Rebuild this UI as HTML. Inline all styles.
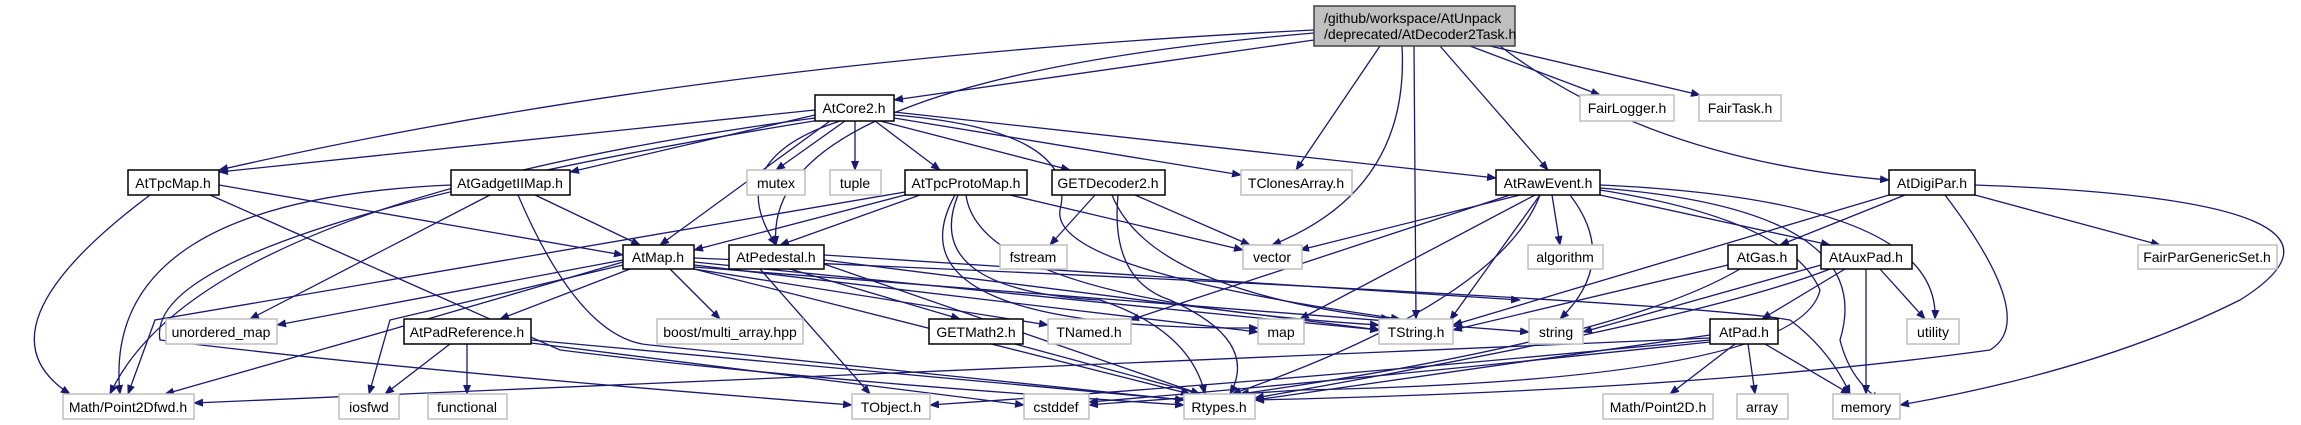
<!DOCTYPE html>
<html><head><meta charset="utf-8"><style>
html,body{margin:0;padding:0;background:#fff;}
svg{display:block;}
text{font-family:"Liberation Sans",sans-serif;font-size:14px;fill:#000;}
.e{fill:none;stroke:#191970;stroke-width:1.3;marker-end:url(#a);}
.n{fill:#fff;stroke:#000;stroke-width:1.5;}
.x{fill:#fff;stroke:#bfbfbf;stroke-width:1.5;}
</style></head><body>
<svg width="2301" height="425" viewBox="0 0 2301 425" xmlns="http://www.w3.org/2000/svg">
<defs><marker id="a" markerWidth="10" markerHeight="8" refX="9" refY="4" orient="auto" markerUnits="userSpaceOnUse"><path d="M0,0 L10,4 L0,8 z" fill="#191970"/></marker></defs>
<g>
<!-- main -->
<path class="e" d="M1314,30 Q700,60 219,170"/>
<path class="e" d="M1314,33 Q760,80 776,245"/>
<path class="e" d="M1314,40 L894,100"/>
<path class="e" d="M1380,46 L1296,170"/>
<path class="e" d="M1402,46 Q1410,190 1272,245"/>
<path class="e" d="M1414,46 L1416,319"/>
<path class="e" d="M1440,46 L1548,170"/>
<path class="e" d="M1470,46 L1600,95"/>
<path class="e" d="M1490,46 L1700,95"/>
<path class="e" d="M1500,46 Q1650,160 1889,180"/>
<!-- AtCore2 -->
<path class="e" d="M815,110 L219,172"/>
<path class="e" d="M815,115 L570,172"/>
<path class="e" d="M830,121 L660,245"/>
<path class="e" d="M840,121 Q720,160 776,245"/>
<path class="e" d="M845,121 L776,170"/>
<path class="e" d="M855,121 L855,170"/>
<path class="e" d="M875,121 L940,170"/>
<path class="e" d="M880,121 L1070,170"/>
<path class="e" d="M894,118 L1241,175"/>
<path class="e" d="M894,112 L1496,178"/>
<path class="e" d="M894,115 Q1080,130 1060,210 Q1050,270 1400,319"/>
<path class="e" d="M815,118 Q200,200 110,394"/>
<path class="e" d="M820,120 Q140,230 160,340 Q400,370 852,405"/>
<!-- AtTpcMap -->
<path class="e" d="M150,195 Q-30,330 70,394"/>
<path class="e" d="M219,185 L623,255"/>
<path class="e" d="M210,195 L560,350 Q800,380 1184,405"/>
<!-- AtGadget -->
<path class="e" d="M451,185 Q100,200 120,394"/>
<path class="e" d="M490,195 L250,319"/>
<path class="e" d="M535,195 L640,245"/>
<path class="e" d="M518,195 Q580,340 650,345 Q900,370 1184,400"/>
<!-- ProtoMap -->
<path class="e" d="M905,195 L694,250"/>
<path class="e" d="M920,195 L780,245"/>
<path class="e" d="M1010,195 L1243,250"/>
<path class="e" d="M958,195 Q920,290 1100,300 Q1190,330 1205,394"/>
<path class="e" d="M966,195 Q980,300 1379,325"/>
<path class="e" d="M955,195 Q880,330 1258,328"/>
<path class="e" d="M905,192 L155,320 L128,394"/>
<!-- GETDec -->
<path class="e" d="M1095,195 L1050,245"/>
<path class="e" d="M1135,195 L1250,245"/>
<path class="e" d="M1112,195 Q1150,290 1390,319"/>
<path class="e" d="M1118,195 Q1110,280 1170,300 Q1260,340 1230,394"/>
<!-- AtRawEvent -->
<path class="e" d="M1520,195 L1300,250"/>
<path class="e" d="M1535,195 L1300,319"/>
<path class="e" d="M1510,195 L1130,320"/>
<path class="e" d="M1540,195 Q1500,300 1232,394"/>
<path class="e" d="M1552,195 L1560,245"/>
<path class="e" d="M1570,195 Q1620,260 1560,319"/>
<path class="e" d="M1600,195 L1830,245"/>
<path class="e" d="M1600,185 Q1940,200 1935,319"/>
<path class="e" d="M1600,188 Q1880,210 1840,340 Q1850,380 1880,400"/>
<path class="e" d="M1600,190 Q1790,220 1820,290 Q1800,380 1300,390 Q1150,400 1089,405"/>
<path class="e" d="M1540,195 L1450,320"/>
<!-- AtDigiPar -->
<path class="e" d="M1905,195 L1780,245"/>
<path class="e" d="M1889,195 L1453,325"/>
<path class="e" d="M1975,195 L2160,245"/>
<path class="e" d="M1975,185 Q2400,200 2240,300 Q2100,370 1900,405"/>
<path class="e" d="M1945,195 Q2040,320 1990,350 Q1700,390 1255,400"/>
<!-- AtMap -->
<path class="e" d="M623,260 L277,325"/>
<path class="e" d="M623,262 L390,330 L165,394"/>
<path class="e" d="M623,265 L390,320 L369,394"/>
<path class="e" d="M630,269 L500,319"/>
<path class="e" d="M670,269 L720,319"/>
<path class="e" d="M694,269 L1048,325"/>
<path class="e" d="M694,265 L1258,332"/>
<path class="e" d="M694,262 L1379,330"/>
<path class="e" d="M694,269 L1190,394"/>
<path class="e" d="M694,267 L1529,332"/>
<path class="e" d="M694,258 Q1680,300 1790,320 Q1830,350 1850,394"/>
<!-- AtPedestal -->
<path class="e" d="M760,269 L870,394"/>
<path class="e" d="M790,269 L960,319"/>
<path class="e" d="M824,260 L1380,330"/>
<path class="e" d="M824,264 L1200,394"/>
<path class="e" d="M824,255 L1520,300"/>
<!-- PadRef -->
<path class="e" d="M450,344 L385,394"/>
<path class="e" d="M467,344 L467,394"/>
<path class="e" d="M531,340 L1184,400"/>
<path class="e" d="M531,343 L1024,405"/>
<!-- GETMath2 -->
<path class="e" d="M1015,344 L1200,394"/>
<!-- AtGas -->
<path class="e" d="M1728,265 L1453,330"/>
<path class="e" d="M1740,269 Q1620,340 1240,394"/>
<!-- AtAuxPad -->
<path class="e" d="M1821,265 L1583,332"/>
<path class="e" d="M1845,269 L1762,319"/>
<path class="e" d="M1866,269 L1866,394"/>
<path class="e" d="M1880,269 L1925,319"/>
<path class="e" d="M1830,269 Q1700,320 1255,398"/>
<!-- AtPad -->
<path class="e" d="M1735,344 L1670,394"/>
<path class="e" d="M1748,344 L1755,394"/>
<path class="e" d="M1765,344 L1850,394"/>
<path class="e" d="M1710,335 L1255,400"/>
<path class="e" d="M1710,340 Q1300,380 930,405"/>
<path class="e" d="M1710,342 Q1300,385 1089,402"/>
<path class="e" d="M1710,338 Q1000,370 194,403"/>
</g>
<g>
<rect x="1314" y="6" width="201" height="40" fill="#bfbfbf" stroke="#404040" stroke-width="1.5"/>
<text x="1324" y="23">/github/workspace/AtUnpack</text>
<text x="1324" y="39">/deprecated/AtDecoder2Task.h</text>

<rect class="n" x="815" y="95" width="79" height="26"/><text x="854" y="113" text-anchor="middle">AtCore2.h</text>
<rect class="x" x="1580" y="95" width="94" height="26"/><text x="1627" y="113" text-anchor="middle" fill="#000">FairLogger.h</text>
<rect class="x" x="1699" y="95" width="82" height="26"/><text x="1740" y="113" text-anchor="middle">FairTask.h</text>

<rect class="n" x="128" y="170" width="91" height="25"/><text x="173" y="188" text-anchor="middle">AtTpcMap.h</text>
<rect class="n" x="451" y="170" width="119" height="25"/><text x="510" y="188" text-anchor="middle">AtGadgetIIMap.h</text>
<rect class="x" x="747" y="170" width="58" height="25"/><text x="776" y="188" text-anchor="middle">mutex</text>
<rect class="x" x="830" y="170" width="51" height="25"/><text x="855" y="188" text-anchor="middle">tuple</text>
<rect class="n" x="905" y="170" width="122" height="25"/><text x="966" y="188" text-anchor="middle">AtTpcProtoMap.h</text>
<rect class="n" x="1052" y="170" width="113" height="25"/><text x="1108" y="188" text-anchor="middle">GETDecoder2.h</text>
<rect class="x" x="1241" y="170" width="111" height="25"/><text x="1296" y="188" text-anchor="middle">TClonesArray.h</text>
<rect class="n" x="1496" y="170" width="104" height="25"/><text x="1548" y="188" text-anchor="middle">AtRawEvent.h</text>
<rect class="n" x="1889" y="170" width="86" height="25"/><text x="1932" y="188" text-anchor="middle">AtDigiPar.h</text>

<rect class="n" x="623" y="245" width="71" height="24"/><text x="658" y="262" text-anchor="middle">AtMap.h</text>
<rect class="n" x="729" y="245" width="95" height="24"/><text x="776" y="262" text-anchor="middle">AtPedestal.h</text>
<rect class="x" x="1000" y="245" width="67" height="24"/><text x="1033" y="262" text-anchor="middle">fstream</text>
<rect class="x" x="1243" y="245" width="59" height="24"/><text x="1272" y="262" text-anchor="middle">vector</text>
<rect class="x" x="1528" y="245" width="75" height="24"/><text x="1565" y="262" text-anchor="middle">algorithm</text>
<rect class="n" x="1728" y="245" width="69" height="24"/><text x="1762" y="262" text-anchor="middle">AtGas.h</text>
<rect class="n" x="1821" y="245" width="91" height="24"/><text x="1866" y="262" text-anchor="middle">AtAuxPad.h</text>
<rect class="x" x="2138" y="245" width="139" height="24"/><text x="2207" y="262" text-anchor="middle">FairParGenericSet.h</text>

<rect class="x" x="166" y="319" width="111" height="25"/><text x="221" y="337" text-anchor="middle">unordered_map</text>
<rect class="n" x="404" y="319" width="127" height="25"/><text x="467" y="337" text-anchor="middle">AtPadReference.h</text>
<rect class="x" x="657" y="319" width="146" height="25"/><text x="730" y="337" text-anchor="middle">boost/multi_array.hpp</text>
<rect class="n" x="929" y="319" width="94" height="25"/><text x="976" y="337" text-anchor="middle">GETMath2.h</text>
<rect class="x" x="1048" y="319" width="83" height="25"/><text x="1089" y="337" text-anchor="middle">TNamed.h</text>
<rect class="x" x="1258" y="319" width="46" height="25"/><text x="1281" y="337" text-anchor="middle">map</text>
<rect class="x" x="1379" y="319" width="74" height="25"/><text x="1416" y="337" text-anchor="middle">TString.h</text>
<rect class="x" x="1529" y="319" width="54" height="25"/><text x="1556" y="337" text-anchor="middle">string</text>
<rect class="n" x="1710" y="319" width="68" height="25"/><text x="1744" y="337" text-anchor="middle">AtPad.h</text>
<rect class="x" x="1907" y="319" width="52" height="25"/><text x="1933" y="337" text-anchor="middle">utility</text>

<rect class="x" x="63" y="394" width="131" height="25"/><text x="128" y="412" text-anchor="middle">Math/Point2Dfwd.h</text>
<rect class="x" x="339" y="394" width="60" height="25"/><text x="369" y="412" text-anchor="middle">iosfwd</text>
<rect class="x" x="428" y="394" width="79" height="25"/><text x="467" y="412" text-anchor="middle">functional</text>
<rect class="x" x="852" y="394" width="78" height="25"/><text x="891" y="412" text-anchor="middle">TObject.h</text>
<rect class="x" x="1024" y="394" width="65" height="25"/><text x="1056" y="412" text-anchor="middle">cstddef</text>
<rect class="x" x="1184" y="394" width="71" height="25"/><text x="1219" y="412" text-anchor="middle">Rtypes.h</text>
<rect class="x" x="1603" y="394" width="110" height="25"/><text x="1658" y="412" text-anchor="middle">Math/Point2D.h</text>
<rect class="x" x="1737" y="394" width="51" height="25"/><text x="1762" y="412" text-anchor="middle">array</text>
<rect class="x" x="1833" y="394" width="67" height="25"/><text x="1866" y="412" text-anchor="middle">memory</text>
</g>
</svg>
</body></html>
